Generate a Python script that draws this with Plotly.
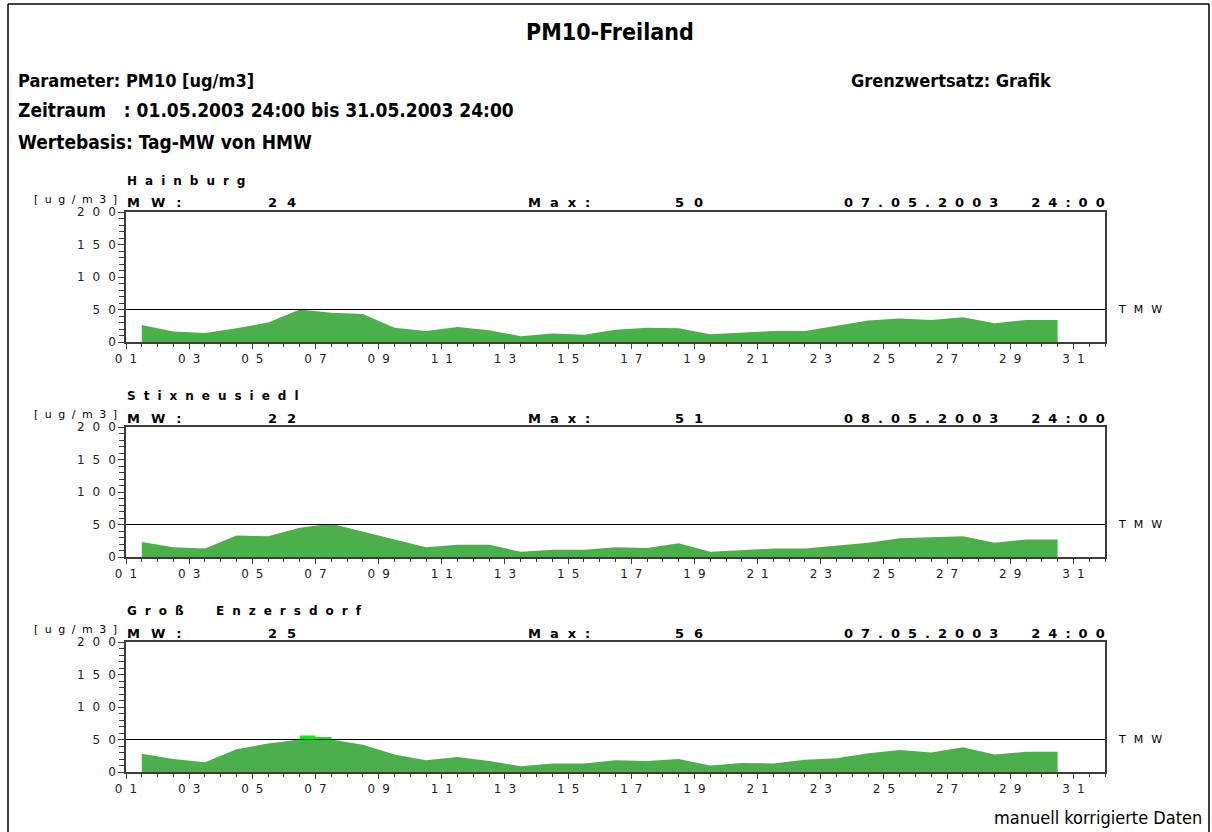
import numpy as np
import plotly.graph_objects as go

W, H = 1212, 832

# Daily means (Tag-MW), one value per day 02.05.–31.05.2003, drawn at the day's centre
days = np.arange(1.5, 31.0, 1.0)
hainburg = [26, 16, 14, 21, 30, 50, 45, 43, 22, 17, 23, 18, 9, 13, 11,
            19, 22, 21, 12, 15, 17, 17, 25, 33, 36, 34, 38, 29, 34, 34]
stixneusiedl = [23, 15, 13, 33, 32, 45, 51, 39, 28, 15, 19, 19, 8, 11, 11,
                15, 14, 21, 8, 11, 13, 13, 18, 22, 29, 30, 32, 22, 27, 27]
gross_enzersdorf = [28, 20, 15, 35, 44, 56, 54, 42, 27, 18, 23, 17, 9, 13, 13,
                    18, 17, 20, 10, 14, 13, 19, 21, 29, 34, 30, 38, 27, 31, 31]

stations = ["Hainburg", "Stixneusiedl", "Groß\u00a0\u00a0Enzersdorf"]
series = [hainburg, stixneusiedl, gross_enzersdorf]
mw_labels = ["24", "22", "25"]
max_labels = ["50", "51", "56"]
max_dates = ["07.05.2003\u00a0\u00a024:00", "08.05.2003\u00a0\u00a024:00", "07.05.2003\u00a0\u00a024:00"]
limit_tmw = 50

x_tickvals = list(range(1, 32, 2))
x_ticklabels = [f"{d:02d}" for d in x_tickvals]
y_tickvals = [0, 50, 100, 150, 200]
y_ticklabels = [str(v) for v in y_tickvals]

GREEN = "#4bb04b"
LIME = "#00f000"
FRAME = "#3c3c3c"
NARROW = "Liberation Sans Narrow, DejaVu Sans Condensed, sans-serif"
WIDE = "DejaVu Sans, Verdana, sans-serif"

# pixel layout of the three panels (top, bottom) and the common left/right edge
panels = [(212, 342), (427, 557), (642, 772)]
LEFT, RIGHT = 126, 1105


def spaced(s, px):
    """Letter-spaced text without trailing space after the last glyph."""
    if len(s) < 2:
        return s
    return f"<span style='letter-spacing:{px}px'>{s[:-1]}</span>{s[-1]}"


def px_x(x):
    return x / W


def px_y(y):
    return 1 - y / H


fig = go.Figure()
annotations = []
shapes = []


def note(x, y, text, size, family, xanchor="left", color="black"):
    annotations.append(dict(
        x=px_x(x), y=px_y(y), xref="paper", yref="paper", text=text,
        showarrow=False, xanchor=xanchor, yanchor="middle", borderpad=0,
        font=dict(size=size, family=family, color=color)))


for k, (vals, (top, bot)) in enumerate(zip(series, panels), start=1):
    v = np.array(vals, dtype=float)
    sfx = "" if k == 1 else str(k)
    xa, ya = "x" + sfx, "y" + sfx

    over = v > limit_tmw
    has_band = over.sum() >= 2
    # main area; capped at the limit where the exceedance band is drawn on top
    fig.add_trace(go.Scatter(
        x=days, y=np.minimum(v, limit_tmw) if has_band else v, mode="lines",
        fill="tozeroy", fillcolor=GREEN, line=dict(width=0, color=GREEN),
        xaxis=xa, yaxis=ya, showlegend=False, hoverinfo="skip"))

    # part above the limit in bright green
    if has_band:
        fig.add_trace(go.Scatter(
            x=days[over], y=np.full(over.sum(), limit_tmw), mode="lines",
            line=dict(width=0), xaxis=xa, yaxis=ya, showlegend=False, hoverinfo="skip"))
        fig.add_trace(go.Scatter(
            x=days[over], y=v[over], mode="lines", fill="tonexty", fillcolor=LIME,
            line=dict(width=0, shape="hvh", color=LIME),
            xaxis=xa, yaxis=ya, showlegend=False, hoverinfo="skip"))

    axis_common = dict(showline=True, linecolor=FRAME, linewidth=1.5, mirror=True,
                       showgrid=False, zeroline=False, ticks="outside",
                       tickcolor=FRAME, tickwidth=1, fixedrange=True, automargin=False)
    fig.update_layout(**{
        "xaxis" + sfx: dict(
            axis_common, domain=[px_x(LEFT), px_x(RIGHT)], range=[1, 32], anchor=ya,
            tickmode="array", tickvals=x_tickvals,
            ticktext=[spaced(t, 7) for t in x_ticklabels],
            ticklen=5, ticklabelstandoff=0,
            tickfont=dict(size=12, family=WIDE, color="#222"),
            minor=dict(tickmode="linear", tick0=1, dtick=0.5, ticks="outside",
                       ticklen=3, tickcolor=FRAME)),
        "yaxis" + sfx: dict(
            axis_common, domain=[px_y(bot), px_y(top)], range=[0, 200], anchor=xa,
            tickmode="array", tickvals=y_tickvals,
            ticktext=[spaced(t, 8) for t in y_ticklabels],
            ticklen=6, tickfont=dict(size=12, family=WIDE, color="#222"),
            ticklabelstandoff=0,
            minor=dict(tickmode="linear", tick0=0, dtick=10, ticks="outside",
                       ticklen=5, tickcolor=FRAME)),
    })

    # TMW limit line
    shapes.append(dict(type="line", xref=f"{xa} domain", yref=ya, x0=0, x1=1,
                       y0=limit_tmw, y1=limit_tmw, line=dict(color="black", width=1)))
    note(1117, top + 97, spaced("TMW", 8), 11, WIDE)

    # panel header
    note(LEFT, top - 31, "<b>" + spaced(stations[k - 1], 8) + "</b>", 12, WIDE)
    hy = top - 9
    note(33, top - 13, spaced("[ug/m3]", 6.5), 11, WIDE)
    note(LEFT, hy, "<b>" + spaced("MW:", 11) + "</b>", 13, WIDE)
    note(267, hy, "<b>" + spaced(mw_labels[k - 1], 10) + "</b>", 13, WIDE)
    note(527, hy, "<b>" + spaced("Max:", 9) + "</b>", 13, WIDE)
    note(674, hy, "<b>" + spaced(max_labels[k - 1], 10) + "</b>", 13, WIDE)
    note(843, hy, "<b>" + spaced(max_dates[k - 1], 8) + "</b>", 13, WIDE)

# page header
note(610, 32, "<b>PM10-Freiland</b>", 23, NARROW, xanchor="center")
note(17, 80, "<b>Parameter: PM10 [ug/m3]</b>", 18, NARROW)
note(17, 110, "<b>Zeitraum\u00a0\u00a0\u00a0: 01.05.2003 24:00 bis 31.05.2003 24:00</b>", 19, NARROW)
note(17, 142, "<b>Wertebasis: Tag-MW von HMW</b>", 19, NARROW)
note(850, 80, "<b>Grenzwertsatz: Grafik</b>", 18, NARROW)
note(1203, 817, "manuell korrigierte Daten", 18, NARROW, xanchor="right")

# page frame
for x0, y0, x1, y1 in [(8, 4, 8, 840), (8, 4, 1209, 4), (1209, 4, 1209, 840)]:
    shapes.append(dict(type="line", xref="paper", yref="paper",
                       x0=px_x(x0), y0=px_y(y0), x1=px_x(x1), y1=px_y(y1),
                       line=dict(color="black", width=1.5)))

fig.update_layout(
    width=W, height=H, margin=dict(l=0, r=0, t=0, b=0, autoexpand=False),
    paper_bgcolor="white", plot_bgcolor="white",
    annotations=annotations, shapes=shapes, showlegend=False,
)

fig.write_html(
    "out.html",
    config={"displayModeBar": False},
    post_script="document.body.style.margin='0';document.body.style.overflow='hidden';",
)
